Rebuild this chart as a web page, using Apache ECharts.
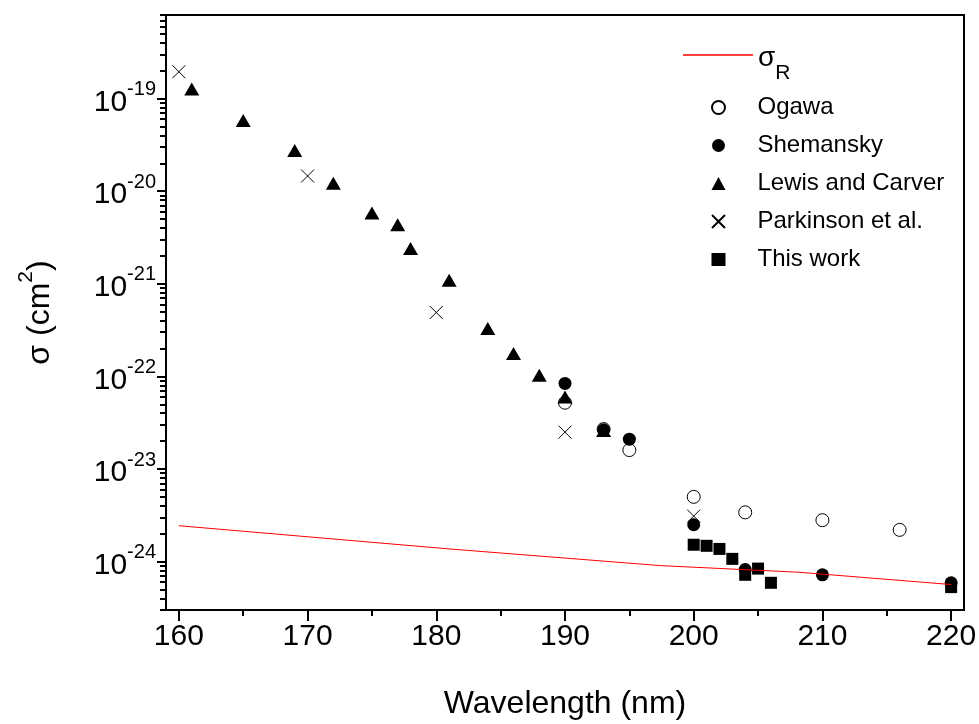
<!DOCTYPE html>
<html><head><meta charset="utf-8">
<script src="https://cdn.jsdelivr.net/npm/echarts@6/dist/echarts.min.js"></script>
<style>html,body{margin:0;padding:0;background:#fff}#c{width:979px;height:724px}</style>
</head><body><div id="c"></div>
<script>
const FONT = '"Liberation Sans", Arial, sans-serif';

// ---- axis ticks ----
const xTickValues = [160, 170, 180, 190, 200, 210, 220];
const xMinorTickValues = [165, 175, 185, 195, 205, 215];
const yTickValues = [1e-24, 1e-23, 1e-22, 1e-21, 1e-20, 1e-19];
const yTickExponents = ['-24', '-23', '-22', '-21', '-20', '-19'];
const yMinorMultipliers = [2, 3, 4, 5, 6, 7, 8, 9];
const yMinorDecades = [1e-25, 1e-24, 1e-23, 1e-22, 1e-21, 1e-20, 1e-19];

// ---- data ----
const rayleighX = [160, 181, 197.4, 208.2, 220];
const rayleighY = [2.44e-24, 1.37e-24, 9.05e-25, 7.67e-25, 5.65e-25];

const ogawaX = [190, 193, 195, 200, 204, 210, 216];
const ogawaY = [5.2e-23, 2.7e-23, 1.6e-23, 5.0e-24, 3.4e-24, 2.8e-24, 2.2e-24];

const shemanskyX = [190, 193, 195, 200, 204, 210, 220];
const shemanskyY = [8.4e-23, 2.65e-23, 2.1e-23, 2.5e-24, 8.2e-25, 7.2e-25, 5.9e-25];

const lewisX = [161, 165, 169, 172, 175, 177, 178, 181, 184, 186, 188, 190, 193];
const lewisY = [1.27e-19, 5.8e-20, 2.75e-20, 1.22e-20, 5.8e-21, 4.35e-21, 2.4e-21, 1.09e-21, 3.3e-22, 1.77e-22, 1.03e-22, 6.0e-23, 2.6e-23];

const parkinsonX = [160, 170, 180, 190, 200];
const parkinsonY = [1.95e-19, 1.46e-20, 4.9e-22, 2.5e-23, 3.1e-24];

const thisWorkX = [200, 201, 202, 203, 204, 205, 206, 220];
const thisWorkY = [1.52e-24, 1.48e-24, 1.37e-24, 1.07e-24, 7.2e-25, 8.4e-25, 5.9e-25, 5.3e-25];

const X_MIN = 159, X_MAX = 221, Y_MIN = 3e-25, Y_MAX = 8e-19;

const zip = (xs, ys) => xs.map((x, i) => [x, ys[i]]);
const yMinorValues = [];
yMinorDecades.forEach(d => yMinorMultipliers.forEach(m => {
  const v = m * d;
  if (v >= Y_MIN * 0.999 && v <= Y_MAX * 1.001) yMinorValues.push(v);
}));

function expLabel(v) {
  const lv = Math.log10(v);
  for (let i = 0; i < yTickValues.length; i++) {
    if (Math.abs(Math.log10(yTickValues[i]) - lv) < 1e-6) return '{a|10}{b|' + yTickExponents[i] + '}';
  }
  return '';
}

const black = '#000';
const chart = echarts.init(document.getElementById('c'), null, {renderer: 'canvas'});
chart.setOption({
  animation: false,
  backgroundColor: '#fff',
  textStyle: {fontFamily: FONT},
  grid: {left: 166, right: 15, top: 15, bottom: 114, show: true, borderColor: black, borderWidth: 2,
         containLabel: false, outerBoundsMode: 'none'},
  xAxis: [{
    type: 'value', min: X_MIN, max: X_MAX, position: 'bottom',
    axisLine: {show: true, lineStyle: {color: black, width: 2}},
    axisTick: {show: true, inside: false, length: 11, lineStyle: {color: black, width: 2}, customValues: xTickValues},
    axisLabel: {customValues: xTickValues, fontSize: 30, color: black, margin: 12, fontFamily: FONT},
    splitLine: {show: false},
    name: 'Wavelength (nm)', nameLocation: 'middle', nameGap: 78,
    nameTextStyle: {fontSize: 32, color: black, fontFamily: FONT}
  }, {
    type: 'value', min: X_MIN, max: X_MAX, position: 'bottom',
    axisLine: {show: false},
    axisTick: {show: true, inside: false, length: 6, lineStyle: {color: black, width: 2}, customValues: xMinorTickValues},
    axisLabel: {show: false}, splitLine: {show: false}
  }],
  yAxis: [{
    type: 'log', logBase: 10, min: Y_MIN, max: Y_MAX, position: 'left',
    axisLine: {show: true, lineStyle: {color: black, width: 2}},
    axisTick: {show: true, inside: false, length: 9, lineStyle: {color: black, width: 2}, customValues: yTickValues},
    axisLabel: {
      customValues: yTickValues, margin: 10, formatter: expLabel, color: black,
      rich: {
        a: {fontSize: 30, fontFamily: FONT, color: black, lineHeight: 38, verticalAlign: 'bottom'},
        b: {fontSize: 20, fontFamily: FONT, color: black, lineHeight: 38, verticalAlign: 'top'}
      }
    },
    splitLine: {show: false},
    name: '{a|σ (cm}{b|2}{a|)}', nameLocation: 'middle', nameGap: 110, nameRotate: 90,
    nameTextStyle: {
      color: black,
      rich: {
        a: {fontSize: 32, fontFamily: FONT, color: black, lineHeight: 40, verticalAlign: 'bottom'},
        b: {fontSize: 21, fontFamily: FONT, color: black, lineHeight: 40, verticalAlign: 'top'}
      }
    }
  }, {
    type: 'log', logBase: 10, min: Y_MIN, max: Y_MAX, position: 'left',
    axisLine: {show: false},
    axisTick: {show: true, inside: false, length: 6, lineStyle: {color: black, width: 2}, customValues: yMinorValues},
    axisLabel: {show: false}, splitLine: {show: false}
  }],
  legend: [{
    data: [{name: 'σR', icon: 'rect'}], orient: 'vertical', left: 683, top: 44, padding: 0,
    itemWidth: 70, itemHeight: 1.5, itemGap: 0,
    formatter: () => '{s|σ}{r|R}',
    textStyle: {
      color: black, padding: [18, 0, 0, 0],
      rich: {
        s: {fontSize: 28, fontFamily: FONT, color: black, lineHeight: 40, verticalAlign: 'top'},
        r: {fontSize: 21, fontFamily: FONT, color: black, lineHeight: 40, verticalAlign: 'bottom'}
      }
    }
  }, {
    data: ['Ogawa', 'Shemansky', 'Lewis and Carver', 'Parkinson et al.', 'This work'],
    orient: 'vertical', left: 711, top: 95, padding: 0,
    itemWidth: 14, itemHeight: 13, itemGap: 13,
    textStyle: {fontSize: 24, lineHeight: 25, color: black, fontFamily: FONT, padding: [0, 0, 0, 27]}
  }],
  series: [{
    name: 'σR', type: 'line', data: zip(rayleighX, rayleighY), symbol: 'none',
    lineStyle: {color: '#ff0000', width: 1}, itemStyle: {color: '#ff0000'}
  }, {
    name: 'Ogawa', type: 'scatter', data: zip(ogawaX, ogawaY), symbol: 'circle', symbolSize: 13,
    itemStyle: {color: '#fff', borderColor: black, borderWidth: 1, opacity: 1}
  }, {
    name: 'Shemansky', type: 'scatter', data: zip(shemanskyX, shemanskyY), symbol: 'circle', symbolSize: 13,
    itemStyle: {color: black, opacity: 1}
  }, {
    name: 'Lewis and Carver', type: 'scatter', data: zip(lewisX, lewisY), symbol: 'triangle', symbolSize: [15, 13],
    itemStyle: {color: black, opacity: 1}
  }, {
    name: 'Parkinson et al.', type: 'scatter', data: zip(parkinsonX, parkinsonY), symbol: 'path://M0,0L10,10M10,0L0,10', symbolSize: 13,
    itemStyle: {color: 'rgba(0,0,0,0)', borderColor: black, borderWidth: 1, opacity: 1}
  }, {
    name: 'This work', type: 'scatter', data: zip(thisWorkX, thisWorkY), symbol: 'rect', symbolSize: 12,
    itemStyle: {color: black, opacity: 1}
  }]
});
</script></body></html>
